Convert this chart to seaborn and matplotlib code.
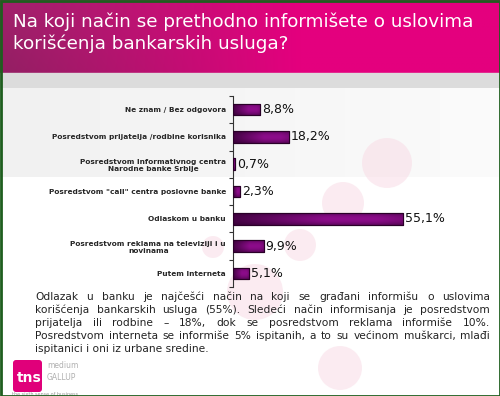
import matplotlib
matplotlib.use("Agg")
import matplotlib.pyplot as plt
import numpy as np
import seaborn as sns
from matplotlib.patches import Rectangle, Circle, FancyBboxPatch

# Data
categories = [
    "Ne znam / Bez odgovora",
    "Posredstvom prijatelja /rodbine korisnika",
    "Posredstvom Informativnog centra\nNarodne banke Srbije",
    "Posredstvom \"call\" centra poslovne banke",
    "Odlaskom u banku",
    "Posredstvom reklama na televiziji i u\nnovinama",
    "Putem Interneta",
]
values = [8.8, 18.2, 0.7, 2.3, 55.1, 9.9, 5.1]
value_labels = ["8,8%", "18,2%", "0,7%", "2,3%", "55,1%", "9,9%", "5,1%"]

title_lines = [
    "Na koji način se prethodno informišete o uslovima",
    "korišćenja bankarskih usluga?",
]
paragraph_lines = [
    "Odlazak u banku je najčešći način na koji se građani informišu o uslovima",
    "korišćenja bankarskih usluga (55%). Sledeći način informisanja je posredstvom",
    "prijatelja ili rodbine – 18%, dok se posredstvom reklama informiše 10%.",
    "Posredstvom interneta se informiše 5% ispitanih, a to su većinom muškarci, mlađi",
    "ispitanici i oni iz urbane sredine.",
]

sns.set_style("white")
plt.rcParams['font.family'] = ['DejaVu Sans']

W, H = 500, 396
fig = plt.figure(figsize=(W / 100, H / 100), dpi=100)
fig.patch.set_facecolor("white")

# background canvas in pixel coords
bg = fig.add_axes([0, 0, 1, 1])
bg.set_xlim(0, W)
bg.set_ylim(H, 0)
bg.axis("off")

# magenta header gradient
xx = np.linspace(0, 1, 200)
yy = np.linspace(0, 1, 40)
tx = np.clip(xx / 0.6, 0, 1)[None, :]
ty = yy[:, None]
left = np.array([160, 34, 108]) / 255
right = np.array([228, 0, 126]) / 255
grad = left[None, None, :] + (right - left)[None, None, :] * tx[..., None]
grad = grad * (1 - 0.08 * ty[..., None] * (1 - tx[..., None]))
grad = np.clip(grad, 0, 1)
bg.imshow(grad, extent=[0, W, 73, 0], aspect="auto", zorder=1)

# gray band and light panel
bg.add_patch(Rectangle((0, 73), W, 15, color="#dcdcdc", zorder=1))
panel = np.linspace(0, 1, 100)[None, :]
pc = 0.945 + 0.04 * panel
panel_img = np.dstack([pc, pc, pc])
bg.imshow(panel_img, extent=[0, W, 177, 88], aspect="auto", zorder=1)

# faint decorative globes
for cx, cy, r in [(387, 163, 25), (343, 203, 21), (300, 245, 16),
                  (213, 247, 11), (255, 292, 28), (340, 368, 22)]:
    bg.add_patch(Circle((cx, cy), r, color="#f8d9e4", alpha=0.5, zorder=2, lw=0))

# title
for i, line in enumerate(title_lines):
    bg.text(13, 22 + i * 22, line, color="white", fontsize=13.2,
            va="center", ha="left", zorder=3)

# logo
bg.add_patch(FancyBboxPatch((13, 360), 29, 32, boxstyle="round,pad=0,rounding_size=3",
                            color="#e0007a", zorder=3, lw=0))
bg.text(17, 378, "tns", color="white", fontsize=10, fontweight="bold",
        va="center", ha="left", zorder=4)
bg.text(47, 366, "medium", color="#b0b0b0", fontsize=5.5, va="center", zorder=4)
bg.text(47, 377, "GALLUP", color="#b0b0b0", fontsize=5.5, va="center", zorder=4)
bg.text(12, 395, "the sixth sense of business", color="#999999", fontsize=3.5,
        va="center", zorder=4)

# border
bg.add_patch(Rectangle((0.5, 0.5), W - 1, H - 1, fill=False, ec="#1e5e1e", lw=2, zorder=10))

# chart axes
ax = fig.add_axes([233 / W, (H - 287) / H, 185 / W, 191 / H])
ax.set_facecolor("none")
sns.barplot(x=values, y=categories, orient="h", color="#7a0a78",
            edgecolor="#2a0028", linewidth=0.8, width=0.42, ax=ax, zorder=3)

dark = np.array([40, 0, 40]) / 255
purple = np.array([140, 12, 138]) / 255
for p in ax.patches:
    x0, y0 = p.get_x(), p.get_y()
    w, h = p.get_width(), p.get_height()
    t = np.linspace(0, 1, 60)
    hfac = 0.3 + 0.7 * np.clip(t / 0.55, 0, 1)
    hfac = np.where(t > 0.85, hfac * (1 - 1.2 * (t - 0.85)), hfac)
    s = np.linspace(-1, 1, 20)
    vfac = 1 - 0.45 * s ** 2
    f = vfac[:, None] * hfac[None, :]
    img = dark[None, None, :] + (purple - dark)[None, None, :] * f[..., None]
    im = ax.imshow(np.clip(img, 0, 1), extent=[x0, x0 + w, y0 + h, y0],
                   aspect="auto", zorder=4)
    im.set_clip_path(p)
    ax.add_patch(Rectangle((x0, y0), w, h, fill=False, ec="#2a0028", lw=0.8, zorder=5))

for i, (v, lab) in enumerate(zip(values, value_labels)):
    ax.text(v + 0.6, i, lab, va="center", ha="left", fontsize=9, color="#111111", zorder=6)

ax.set_xlim(0, 60)
ax.set_ylim(6.5, -0.5)
ax.set_xlabel("")
ax.set_ylabel("")
ax.set_xticks([])
for side in ["top", "right", "bottom"]:
    ax.spines[side].set_visible(False)
ax.spines["left"].set_color("#333333")
ax.spines["left"].set_linewidth(0.8)
ax.set_yticks(np.arange(-0.5, 7, 1), minor=True)
ax.tick_params(axis="y", which="major", length=0, pad=5, labelsize=5.3)
ax.tick_params(axis="y", which="minor", length=3, width=0.8, color="#333333",
               direction="out", left=True)
for lbl in ax.get_yticklabels():
    lbl.set_fontweight("bold")
    lbl.set_multialignment("center")

# justified paragraph
fig.canvas.draw()
renderer = fig.canvas.get_renderer()
x_left, x_right = 35, 490
for i, line in enumerate(paragraph_lines):
    y = 297 + i * 13
    words = line.split(" ")
    if i == len(paragraph_lines) - 1:
        bg.text(x_left, y, line, fontsize=7.7, color="#222222", va="center", ha="left", zorder=5)
        continue
    objs = [bg.text(0, y, w_, fontsize=7.7, color="#222222", va="center", ha="left", zorder=5)
            for w_ in words]
    widths = [o.get_window_extent(renderer).width for o in objs]
    gap = (x_right - x_left - sum(widths)) / (len(words) - 1)
    x = x_left
    for o, wd in zip(objs, widths):
        o.set_x(x)
        x += wd + gap

fig.savefig("out.png", dpi=100, facecolor="white")
